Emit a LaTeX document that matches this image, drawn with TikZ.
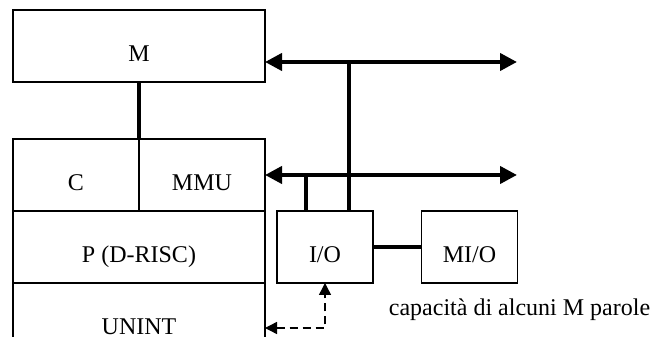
\documentclass[tikz,border=0pt]{standalone}
\usepackage{fontspec}
\setmainfont{Liberation Serif}
\usetikzlibrary{arrows.meta,positioning,calc}

\begin{document}
\begin{tikzpicture}[x=0.5pt,y=-0.5pt,
    blocco/.style={draw, line width=0.6pt, outer sep=0pt, inner sep=0pt,
                   text height=16pt, text depth=0pt, font=\fontsize{12}{14}\selectfont},
    filo/.style={line width=2pt},
    bus/.style={filo, {Triangle[length=8.5pt,width=8.5pt]}-{Triangle[length=8.5pt,width=8.5pt]}},
    tratto/.style={line width=0.7pt, dash pattern=on 4pt off 2.5pt,
                   {Triangle[length=6pt,width=6pt]}-{Triangle[length=6pt,width=6pt]}}]
    \useasboundingbox (0,0) rectangle (654,347);

    % memoria e processore
    \node[blocco, minimum width=126pt, minimum height=36pt] (M) at (139,46) {M};
    \node[blocco, minimum width=63pt, minimum height=36pt] (C) at (76,175) {C};
    \node[blocco, minimum width=63pt, minimum height=36pt, right=0pt of C] (MMU) {MMU};
    \node[blocco, minimum width=126pt, minimum height=36pt] (P) at (139,247) {P (D-RISC)};
    \node[blocco, draw=none, minimum width=126pt, minimum height=36pt, below=0pt of P] (U) {UNINT};
    \draw[line width=0.6pt] (U.north west) -- ++(0,54);
    \draw[line width=0.6pt] (U.north east) -- ++(0,54);
    \draw[filo] (M.south) -- (C.north east);

    % unità di I/O
    \node[blocco, minimum width=48pt, minimum height=36pt] (IO) at (325,247) {I/O};
    \node[blocco, minimum width=48pt, minimum height=36pt] (MIO) at (469.5,247) {MI/O};
    \draw[filo] (IO.east) -- (MIO.west);
    \node[font=\fontsize{12}{14}\selectfont, anchor=base] (nota) at (519.5,316) {capacità di alcuni M parole};

    % bus
    \coordinate (busA-l) at (265,62);
    \coordinate (busA-r) at (517,62);
    \coordinate (busB-r) at (517,175);
    \draw[bus] (busA-l) -- (busA-r);
    \draw[bus] (MMU.east) -- (busB-r);
    \coordinate (ioA) at ($(IO.north west)!0.75!(IO.north east)$);
    \coordinate (ioB) at ($(IO.north west)!0.3!(IO.north east)$);
    \draw[filo] (ioA) -- (ioA |- busA-l);
    \draw[filo] (ioB) -- (ioB |- MMU.east);

    % interruzioni
    \coordinate (uA) at ($(U.north east)+(0,45)$);
    \draw[tratto] (uA) -| (IO.south);
\end{tikzpicture}
\end{document}
